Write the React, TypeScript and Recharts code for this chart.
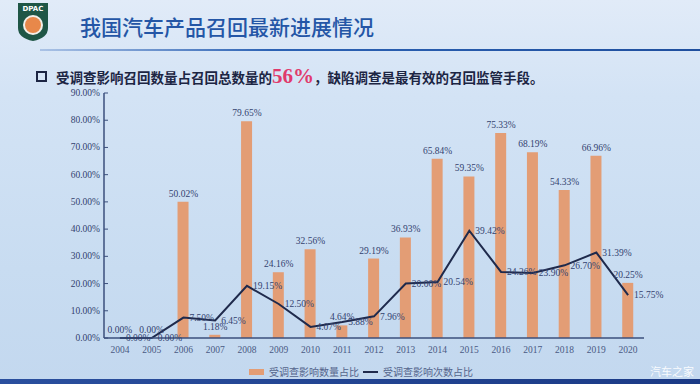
import React from "react";
import { ComposedChart, Bar, Line, XAxis, YAxis, Legend, LabelList } from "recharts";

// 年份
const years = [
  "2004", "2005", "2006", "2007", "2008", "2009", "2010", "2011", "2012",
  "2013", "2014", "2015", "2016", "2017", "2018", "2019", "2020",
];
// 受调查影响数量占比 (%)
const quantityShare = [
  0, 0, 50.02, 1.18, 79.65, 24.16, 32.56, 4.64, 29.19,
  36.93, 65.84, 59.35, 75.33, 68.19, 54.33, 66.96, 20.25,
];
// 受调查影响次数占比 (%)
const countShare = [
  0, 0, 7.5, 6.45, 19.15, 12.5, 4.07, 5.88, 7.96,
  20.0, 20.54, 39.42, 24.26, 23.9, 26.7, 31.39, 15.75,
];
const yTicks = [0, 10, 20, 30, 40, 50, 60, 70, 80, 90];

const BAR_COLOR = "#e39d75";
const LINE_COLOR = "#1f2a4c";
const AXIS_COLOR = "#3b4f7c";
const TEXT_COLOR = "#33426f";
const SERIF = "'Liberation Serif', 'DejaVu Serif', serif";
const CJK = "'Noto Sans CJK SC', 'Noto Sans', sans-serif";

const data = years.map((year, i) => ({
  year,
  quantity: quantityShare[i],
  count: countShare[i],
}));

const pct = (v: any) => `${Number(v).toFixed(2)}%`;

const YTick = (props: any) => {
  const { x, y, payload } = props;
  return (
    <g>
      <line x1={x + 4} x2={x + 8} y1={y} y2={y} stroke={AXIS_COLOR} strokeWidth={1} />
      <text
        x={x}
        y={y}
        dy={3}
        textAnchor="end"
        fill={TEXT_COLOR}
        fontSize={9.5}
        fontFamily={SERIF}
      >
        {pct(payload.value)}
      </text>
    </g>
  );
};

const renderLegend = () => (
  <div
    style={{
      display: "flex",
      justifyContent: "center",
      alignItems: "center",
      fontFamily: CJK,
      fontSize: 10,
      color: "#55658c",
      paddingLeft: 78,
      marginTop: 2,
    }}
  >
    <span style={{ display: "inline-block", width: 15, height: 6, background: BAR_COLOR, marginRight: 5 }} />
    <span style={{ marginRight: 4 }}>受调查影响数量占比</span>
    <span style={{ display: "inline-block", width: 15, height: 2, background: LINE_COLOR, marginRight: 5 }} />
    <span>受调查影响次数占比</span>
  </div>
);

export default function App() {
  return (
    <div
      style={{
        position: "absolute",
        left: 0,
        top: 0,
        width: 700,
        height: 384,
        overflow: "hidden",
        background: "linear-gradient(180deg, #e1ebf8 0%, #d3e3f5 25%, #c8dcf1 70%, #c3d8ef 100%)",
      }}
    >
      {/* 标志 */}
      <svg style={{ position: "absolute", left: 17, top: 2 }} width={32} height={40}>
        <path d="M1 1 H31 V26 Q31 36 16 39 Q1 36 1 26 Z" fill="#1f5646" />
        <text x={16} y={9} textAnchor="middle" fill="#ffffff" fontSize={7} fontWeight="bold" fontFamily="'DejaVu Sans', sans-serif">
          DPAC
        </text>
        <circle cx={16} cy={23} r={10} fill="#f3f0ea" />
        <circle cx={16} cy={23} r={8} fill="#e8884a" />
      </svg>

      {/* 标题 */}
      <div
        style={{
          position: "absolute",
          left: 80,
          top: 13,
          fontFamily: CJK,
          fontSize: 21,
          fontWeight: 500,
          color: "#2456a6",
          lineHeight: "26px",
        }}
      >
        我国汽车产品召回最新进展情况
      </div>
      <div
        style={{
          position: "absolute",
          left: 40,
          top: 49,
          width: 660,
          height: 2,
          background: "linear-gradient(90deg, rgba(60,110,190,0.3) 0%, #2c62b4 35%, #1f4f9e 100%)",
        }}
      />

      {/* 副标题 */}
      <div
        style={{
          position: "absolute",
          left: 36,
          top: 64,
          display: "flex",
          alignItems: "baseline",
          fontFamily: CJK,
          fontSize: 13.5,
          fontWeight: 700,
          color: "#1c2543",
          whiteSpace: "nowrap",
        }}
      >
        <span
          style={{
            display: "inline-block",
            width: 7,
            height: 7,
            border: "2px solid #1c2543",
            marginRight: 9,
            position: "relative",
            top: -1,
          }}
        />
        <span>受调查影响召回数量占召回总数量的</span>
        <span style={{ fontFamily: SERIF, fontSize: 21, fontWeight: 700, color: "#e03a6c" }}>56%</span>
        <span>，缺陷调查是最有效的召回监管手段。</span>
      </div>

      {/* 图表 */}
      <div style={{ position: "absolute", left: 0, top: 0 }}>
        <ComposedChart
          width={700}
          height={384}
          data={data}
          margin={{ top: 93, right: 56, left: 0, bottom: 0 }}
        >
          <XAxis
            dataKey="year"
            tickLine={false}
            tickSize={0}
            tickMargin={8}
            height={24}
            axisLine={{ stroke: AXIS_COLOR, strokeWidth: 1.5 }}
            tick={{ fill: "#4a5a84", fontSize: 9.5, fontFamily: SERIF }}
            interval={0}
          />
          <YAxis
            domain={[0, 90]}
            ticks={yTicks}
            width={104}
            tickLine={false}
            tickSize={0}
            tickMargin={4}
            axisLine={{ stroke: AXIS_COLOR, strokeWidth: 1.5 }}
            tick={<YTick />}
            interval={0}
          />
          <Legend verticalAlign="bottom" height={22} content={renderLegend} />
          <Bar dataKey="quantity" name="受调查影响数量占比" fill={BAR_COLOR} barSize={11} isAnimationActive={false} />
          {/* 柱顶标签（含 0 值） */}
          <Line
            type="linear"
            dataKey="quantity"
            stroke="none"
            dot={false}
            activeDot={false}
            legendType="none"
            isAnimationActive={false}
          >
            <LabelList
              dataKey="quantity"
              position="top"
              offset={5}
              formatter={pct}
              fill={TEXT_COLOR}
              fontSize={9.5}
              fontFamily={SERIF}
            />
          </Line>
          <Line
            type="linear"
            dataKey="count"
            name="受调查影响次数占比"
            stroke={LINE_COLOR}
            strokeWidth={2}
            dot={false}
            activeDot={false}
            isAnimationActive={false}
          >
            <LabelList
              dataKey="count"
              position="right"
              offset={6}
              formatter={pct}
              fill={TEXT_COLOR}
              fontSize={9.5}
              fontFamily={SERIF}
            />
          </Line>
        </ComposedChart>
      </div>

      {/* 底部条 */}
      <div
        style={{
          position: "absolute",
          left: 0,
          top: 379,
          width: 700,
          height: 5,
          background: "linear-gradient(90deg, #2a4f9e, #1b3a86)",
        }}
      />
      <div
        style={{
          position: "absolute",
          left: 650,
          top: 363,
          fontFamily: CJK,
          fontSize: 11,
          color: "rgba(255,255,255,0.9)",
        }}
      >
        汽车之家
      </div>
    </div>
  );
}
